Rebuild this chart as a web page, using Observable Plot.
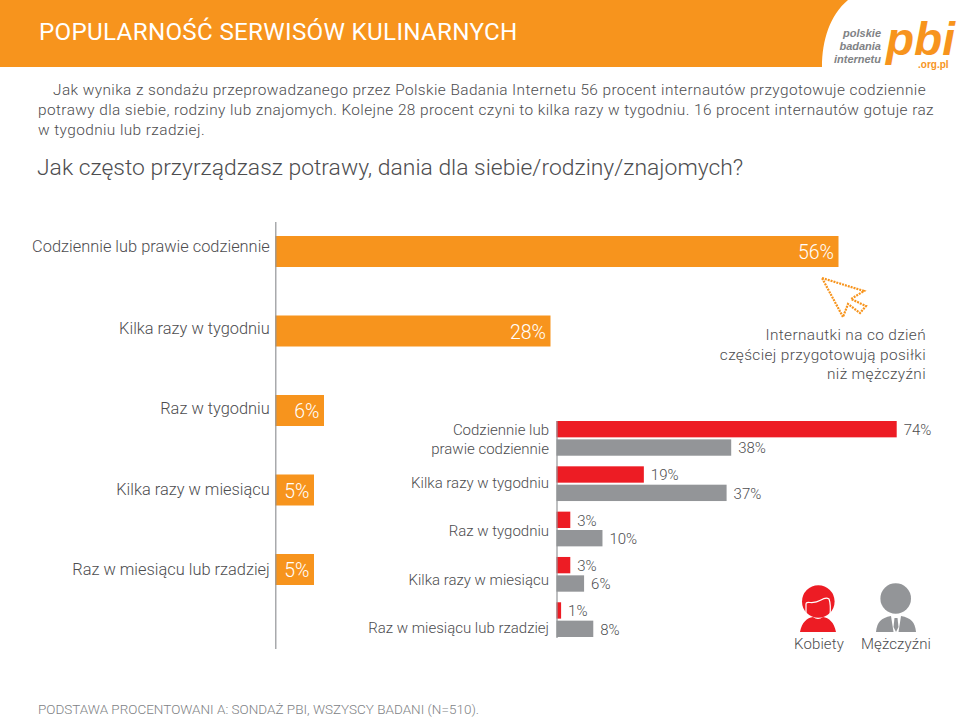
<!DOCTYPE html>
<html lang="pl">
<head>
<meta charset="utf-8">
<script src="https://cdn.jsdelivr.net/npm/d3@7"></script>
<script src="https://cdn.jsdelivr.net/npm/@observablehq/plot@0.6"></script>
<style>
html,body{margin:0;padding:0;background:#fff}
#page{position:relative;width:959px;height:718px;overflow:hidden;font-family:Roboto,sans-serif;font-weight:300;color:#4d4d4f}
#page>*{position:absolute}
#page>svg{left:0;top:0}
.t{white-space:nowrap;margin:0}
#title{left:39px;top:16px;font-size:24.2px;font-weight:400;color:#fff;letter-spacing:.3px;line-height:32px}
#lead{left:38px;top:80px;font-size:15.4px;line-height:20px;letter-spacing:.41px;color:#4d4d4f}
#lead .in{padding-left:15px}
#question{left:37px;top:153px;font-size:22.9px;line-height:30px;color:#4d4d4f}
#note{right:33px;top:326px;font-size:15.4px;line-height:19.6px;text-align:right;letter-spacing:.36px;color:#4d4d4f}
#foot{left:38px;top:701px;font-size:13.5px;line-height:17px;color:#808285}
.lg{font-size:15px;top:635px;letter-spacing:.1px;color:#4d4d4f;line-height:18px;transform:translateX(-50%)}
</style>
</head>
<body>
<div id="page">
  <svg width="959" height="718" id="deco" aria-hidden="true">
    <path d="M0 0H848C830 15 822 40 822 67H0Z" fill="#f7941d"/>
    <g font-family="'Liberation Sans',sans-serif" font-weight="700" font-style="italic" fill="#808285" font-size="11" text-anchor="end">
      <text x="881" y="37">polskie</text><text x="881" y="50">badania</text><text x="881" y="63">internetu</text>
    </g>
    <text x="886" y="55" font-family="'Liberation Sans',sans-serif" font-weight="700" font-style="italic" font-size="46" fill="#f7941d" textLength="69" lengthAdjust="spacingAndGlyphs">pbi</text>
    <text x="918" y="68" font-family="'Liberation Sans',sans-serif" font-weight="700" font-size="10" fill="#f7941d">.org.pl</text>
    <path d="M822 278L864 291L851 299L866 306L860 313L848 304L843 317Z" fill="none" stroke="#f7941d" stroke-width="2.2" stroke-dasharray="2 1"/>
    <g fill="#ed1c24">
      <circle cx="818.3" cy="601.5" r="16.3"/>
      <path d="M800 632C802 622 807 618 813 617Q818 621 823 617C829 618 834 622 836 632Z"/>
    </g>
    <path d="M806 616V604Q806 602 810 602.5Q816 603 821 600Q826 597 829 599Q831 604 830 616" fill="none" stroke="#fff" stroke-width="1.2"/>
    <g fill="#939598">
      <circle cx="895.7" cy="598.5" r="15.3"/>
      <path d="M876 632C877 622 881 618 891 616L893.5 632Z"/>
      <path d="M916 632C915 622 911 618 901 616L898.5 632Z"/>
      <path d="M894.5 618H897.5L898.5 627L896 632L893.5 627Z"/>
    </g>
  </svg>
  <div class="t" id="title">POPULARNOŚĆ SERWISÓW KULINARNYCH</div>
  <p class="t" id="lead"><span class="in">Jak wynika z sondażu przeprowadzanego przez Polskie Badania Internetu 56 procent internautów przygotowuje codziennie</span><br>potrawy dla siebie, rodziny lub znajomych. Kolejne 28 procent czyni to kilka razy w tygodniu. 16 procent internautów gotuje raz<br>w tygodniu lub rzadziej.</p>
  <div class="t" id="question">Jak często przyrządzasz potrawy, dania dla siebie/rodziny/znajomych?</div>
  <div class="t" id="note">Internautki na co dzień<br>częściej przygotowują posiłki<br>niż mężczyźni</div>
  <div class="t lg" style="left:819px">Kobiety</div>
  <div class="t lg" style="left:896px">Mężczyźni</div>
  <div class="t" id="foot">PODSTAWA PROCENTOWANI A: SONDAŻ PBI, WSZYSCY BADANI (N=510).</div>
</div>
<script>
// Górny wykres: częstość przyrządzania potraw
const overallCategories = ["Codziennie lub prawie codziennie", "Kilka razy w tygodniu", "Raz w tygodniu", "Kilka razy w miesiącu", "Raz w miesiącu lub rzadziej"];
const overallValues = [56, 28, 6, 5, 5];

// Dolny wykres: kobiety i mężczyźni
const genderCategories = ["Codziennie lub\nprawie codziennie", "Kilka razy w tygodniu", "Raz w tygodniu", "Kilka razy w miesiącu", "Raz w miesiącu lub rzadziej"];
const genders = ["Kobiety", "Mężczyźni"];
const womenValues = [74, 19, 3, 3, 1];
const menValues = [38, 37, 10, 6, 8];

const ORANGE = "#f7941d", RED = "#ed1c24", GRAY = "#939598", INK = "#4d4d4f";
const FONT = "Roboto, sans-serif";
const overall = overallCategories.map((category, i) => ({category, value: overallValues[i]}));
const byGender = genderCategories.flatMap((category, i) => [
  {category, gender: genders[0], value: womenValues[i]},
  {category, gender: genders[1], value: menValues[i]}
]);

// The source sets its category labels slightly off the bar centres.
const topLabelNudge = [-5, -3, -2, -1, 0];
const bottomLabelNudge = [0, -2, 0, 4, 7];

const top_ = Plot.plot({
  width: 959, height: 718,
  marginLeft: 275.3, marginRight: 0, marginTop: 222, marginBottom: 69,
  style: {fontFamily: FONT, fontWeight: 300, background: "transparent", overflow: "visible"},
  // the source draws its bars slightly off-proportion, so the axis follows them piecewise
  x: {type: "linear", domain: [0, 5, 6, 28, 56], range: [275.3, 314, 324, 550.5, 838.5], axis: null},
  y: {domain: overallCategories, range: [236, 585], padding: 0.61, paddingOuter: 0, round: false},
  marks: [
    Plot.barX(overall, {x: "value", y: "category", fill: ORANGE}),
    Plot.ruleX([0], {stroke: GRAY, strokeWidth: 1.2}),
    Plot.text(overall, {x: "value", y: "category", text: d => d.value + "%", textAnchor: "end", dx: -5, dy: 1, fill: "#fff", fontSize: 19.5, fontWeight: 300}),
    ...overallCategories.map((c, i) => Plot.axisY({ticks: [c], anchor: "left", label: null, tickSize: 0, tickPadding: 6, fontSize: 16.4, fill: INK, dy: topLabelNudge[i]}))
  ]
});

const bottom_ = Plot.plot({
  width: 959, height: 718,
  marginLeft: 556.5, marginRight: 0, marginTop: 410, marginBottom: 70,
  style: {fontFamily: FONT, fontWeight: 300, background: "transparent", overflow: "visible"},
  x: {domain: [0, 74], range: [556.5, 896.7], axis: null},
  y: {domain: genders, padding: 0.11, paddingOuter: 0, round: false, axis: null},
  fy: {domain: genderCategories, range: [421, 637], padding: 0.234, paddingOuter: 0, round: false},
  color: {domain: genders, range: [RED, GRAY]},
  marks: [
    Plot.barX(byGender, {x: "value", y: "gender", fy: "category", fill: "gender"}),
    Plot.frame({anchor: "left", stroke: GRAY, strokeWidth: 1.2, facet: "super"}),
    Plot.text(byGender, {x: "value", y: "gender", fy: "category", text: d => d.value + "%", textAnchor: "start", dx: 6.5, dy: 0.5, fill: INK, fontSize: 15}),
    ...genderCategories.map((c, i) => Plot.axisFy({ticks: [c], anchor: "left", label: null, tickSize: 0, tickPadding: 8, fontSize: 15, lineHeight: 1.25, fill: INK, dy: bottomLabelNudge[i]}))
  ]
});

const page = document.getElementById("page");
page.appendChild(top_);
page.appendChild(bottom_);
</script>
</body>
</html>
